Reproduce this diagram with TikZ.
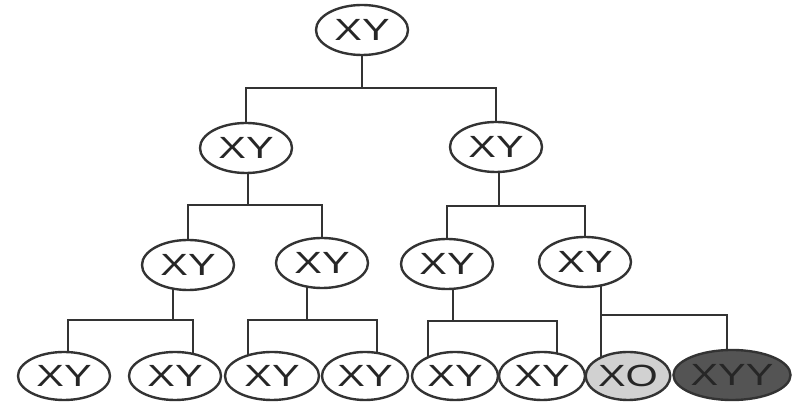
\documentclass[tikz,border=0pt]{standalone}
\usepackage{fontspec}
\usepackage{graphicx}
\setmainfont{Liberation Sans}
\usetikzlibrary{shapes.geometric,backgrounds}
\newcommand{\chromo}[1]{\scalebox{1.35}[1]{#1}}
\begin{document}
\begin{tikzpicture}[x=0.025cm,y=-0.025cm,
  cell/.style={ellipse,draw=black!80,line width=1.7pt,fill=white,text=black!85,
    minimum width=2.3cm,minimum height=1.25cm,inner sep=0pt,
    font=\fontsize{21.8}{22}\selectfont},
  leaf/.style={cell,minimum height=1.2cm},
  link/.style={draw=black!80,line width=1.7pt}]
\useasboundingbox (0,0) rectangle (798,411);
% generations
\node[cell] (r) at (362,30) {\chromo{XY}};
\node[cell] (a) at (246,148) {\chromo{XY}};
\node[cell] (b) at (496,147) {\chromo{XY}};
\node[cell] (c) at (188,265) {\chromo{XY}};
\node[cell] (d) at (322,263) {\chromo{XY}};
\node[cell] (e) at (447,264) {\chromo{XY}};
\node[cell] (f) at (585,262) {\chromo{XY}};
\node[leaf] (g1) at (64,376) {\chromo{XY}};
\node[leaf] (g2) at (175,376) {\chromo{XY}};
\node[leaf,minimum width=2.35cm] (g3) at (272,376) {\chromo{XY}};
\node[leaf,minimum width=2.15cm] (g4) at (365,376) {\chromo{XY}};
\node[leaf,minimum width=2.15cm] (g5) at (455,376) {\chromo{XY}};
\node[leaf,minimum width=2.15cm] (g6) at (542,376) {\chromo{XY}};
\node[leaf,minimum width=2cm,fill=black!18] (g7) at (628,376) {\chromo{XO}};
\node[leaf,minimum width=2.9cm,minimum height=1.25cm,fill=black!67] (g8) at (732,375) {\chromo{XYY}};
% junctions
\coordinate (rj) at (362,88);
\coordinate (aj) at (248,205);
\coordinate (bj) at (499,206);
\coordinate (cj) at (173,320);
\coordinate (cl) at (68,320);
\coordinate (cr) at (193,320);
\coordinate (dj) at (307,320);
\coordinate (dl) at (248,320);
\coordinate (dr) at (377,320);
\coordinate (ej) at (453,321);
\coordinate (el) at (428,321);
\coordinate (er) at (557,321);
\coordinate (fl) at (601,315);
\coordinate (fr) at (727,315);
\begin{scope}[on background layer]
\draw[link] (r) -- (rj);
\draw[link] (a) |- (rj) -| (b);
\draw[link] (a -| aj) -- (aj);
\draw[link] (c) |- (aj) -| (d);
\draw[link] (b -| bj) -- (bj);
\draw[link] (e) |- (bj) -| (f);
\draw[link] (c -| cj) -- (cj);
\draw[link] (g1 -| cl) -- (cl) -- (cr) -- (g2 -| cr);
\draw[link] (d -| dj) -- (dj);
\draw[link] (g3 -| dl) -- (dl) -- (dr) -- (g4 -| dr);
\draw[link] (e -| ej) -- (ej);
\draw[link] (g5 -| el) -- (el) -- (er) -- (g6 -| er);
\draw[link] (f -| fl) -- (g7 -| fl);
\draw[link] (fl) -- (fr) -- (g8 -| fr);
\end{scope}
\end{tikzpicture}
\end{document}
